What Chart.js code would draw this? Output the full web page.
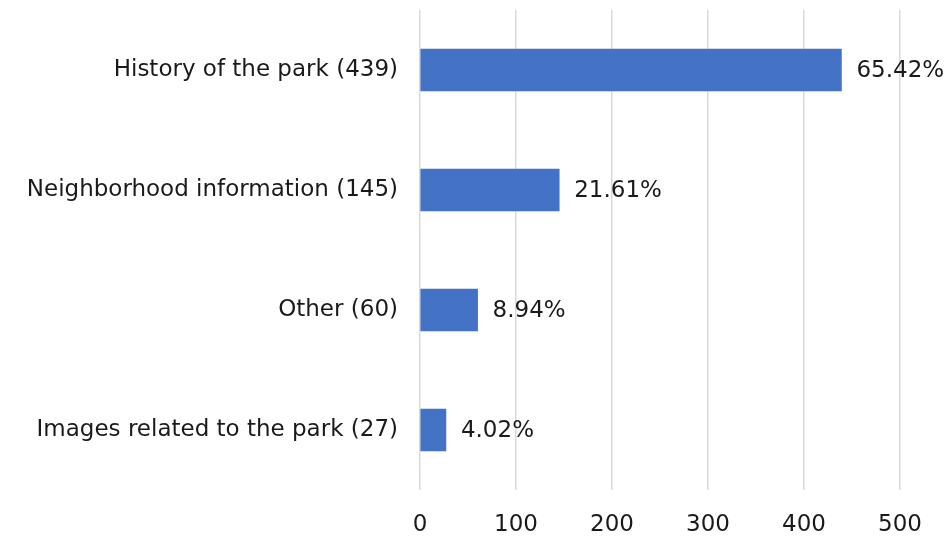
<!DOCTYPE html>
<html>
<head>
<meta charset="utf-8">
<script src="https://cdn.jsdelivr.net/npm/chart.js@4"></script>
<style>
    html, body { margin: 0; padding: 0; background: #ffffff; }
    #wrap { width: 947px; height: 539px; position: relative; }
</style>
</head>
<body>
<div id="wrap"><canvas id="topicChart"></canvas></div>
<script>
// Chart data
const categories = [
    'History of the park (439)',
    'Neighborhood information (145)',
    'Other (60)',
    'Images related to the park (27)'
];
const counts = [439, 145, 60, 27];
const percents = [65.42, 21.61, 8.94, 4.02];
const xTicks = [0, 100, 200, 300, 400, 500];

const barColor = '#4472c4';
const textColor = '#1a1a1a';
const fontFamily = "'DejaVu Sans', sans-serif";

// Draw percentage labels to the right of each bar
const percentLabels = {
    id: 'percentLabels',
    afterDatasetsDraw(chart) {
        const ctx = chart.ctx;
        const meta = chart.getDatasetMeta(0);
        ctx.save();
        ctx.font = '23px ' + fontFamily;
        ctx.fillStyle = textColor;
        ctx.textAlign = 'left';
        ctx.textBaseline = 'middle';
        meta.data.forEach((bar, i) => {
            ctx.fillText(percents[i].toFixed(2) + '%', bar.x + 15, bar.y + 1);
        });
        ctx.restore();
    }
};

const ctx = document.getElementById('topicChart');
new Chart(ctx, {
    type: 'bar',
    data: {
        labels: categories,
        datasets: [{
            data: counts,
            backgroundColor: barColor,
            barThickness: 42
        }]
    },
    options: {
        indexAxis: 'y',
        responsive: true,
        maintainAspectRatio: false,
        animation: false,
        layout: { padding: { top: 10, right: 47, left: 0, bottom: 0 } },
        plugins: {
            legend: { display: false },
            tooltip: { enabled: false }
        },
        scales: {
            x: {
                min: 0,
                max: 500,
                afterBuildTicks: (axis) => {
                    axis.ticks = xTicks.map(v => ({ value: v }));
                },
                afterFit: (axis) => {
                    axis.height = 49;
                    axis.paddingTop = 0;
                },
                border: { display: false },
                grid: { color: '#d9d9d9', lineWidth: 1.5, drawTicks: false },
                ticks: {
                    color: textColor,
                    padding: 21,
                    font: { family: fontFamily, size: 23 }
                }
            },
            y: {
                afterFit: (axis) => {
                    axis.width = 420;
                    axis.paddingTop = 0;
                    axis.paddingBottom = 0;
                },
                border: { display: false },
                grid: { display: false, drawTicks: false },
                ticks: {
                    color: textColor,
                    padding: 22,
                    font: { family: fontFamily, size: 23 }
                }
            }
        }
    },
    plugins: [percentLabels]
});
</script>
</body>
</html>
